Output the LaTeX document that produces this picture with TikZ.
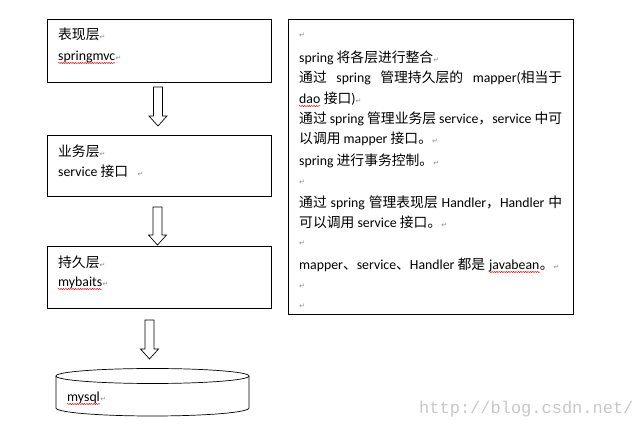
\documentclass[tikz,border=0pt]{standalone}
\usepackage{fontspec}
\setmainfont{Carlito}
\newfontfamily\cjk{Noto Sans CJK SC}
\newfontfamily\dejavu{DejaVu Sans}
\newfontfamily\wmfont{Liberation Mono}
\usetikzlibrary{decorations.pathmorphing}
\newcommand\zh[1]{{\cjk #1}}
\newcommand\rt{{\dejavu\fontsize{7}{7}\selectfont\color{black!45}↵}}
\newcommand\blockarrow[3]{%
  \draw[arr] (#1-4.5,#2) -- (#1+4.5,#2) -- (#1+4.5,#3-10) -- (#1+9,#3-10) -- (#1,#3)
    -- (#1-9,#3-10) -- (#1-4.5,#3-10) -- cycle;}
\tikzset{
  box/.style={draw, line width=0.8pt, inner sep=0pt},
  txt/.style={anchor=base west, inner sep=0pt, font=\fontsize{13.8}{16}\selectfont},
  arr/.style={draw, line width=0.7pt, fill=white},
  wavy/.style={draw=red, line width=0.45pt, decorate,
    decoration={snake, segment length=2.4pt, amplitude=0.6pt}},
}
\begin{document}
\begin{tikzpicture}[x=1pt, y=-1pt]
\useasboundingbox (0,0) rectangle (641,430);
% left boxes
\node[box, minimum width=224pt, minimum height=63pt] (b1) at (159,50.5) {};
\node[box, minimum width=224pt, minimum height=61pt] (b2) at (159,165.5) {};
\node[box, minimum width=224pt, minimum height=62pt] (b3) at (159,277) {};
% right box
\node[box, minimum width=285pt, minimum height=295pt] (rb) at (430.5,166.5) {};
% box texts
\node[txt] (t1) at (58,40) {\zh{表现层}\rt};
\node[txt] (sm) at (58,61) {springmvc};
\node[txt] (sm2) at (sm.base east) {\rt};
\draw[wavy] ([yshift=-2pt]sm.base west) -- ([yshift=-2pt]sm.base east);
\node[txt] (t2) at (58,157) {\zh{业务层}\rt};
\node[txt] (t2b) at (58,177) {service \zh{接口}\ \ \ \rt};
\node[txt] (t3) at (58,268) {\zh{持久层}\rt};
\node[txt] (mb) at (58,287) {mybaits};
\node[txt] (mb2) at (mb.base east) {\rt};
\draw[wavy] ([yshift=-2pt]mb.base west) -- ([yshift=-2pt]mb.base east);
% arrows
\blockarrow{158}{87}{126}
\blockarrow{157.5}{207}{245}
\blockarrow{149.5}{320}{359}
% cylinder
\draw[line width=0.7pt] (56,376) -- (56,408) arc[start angle=180, end angle=0, x radius=96.5, y radius=8] -- (249,376);
\draw[line width=0.7pt] (152.5,376) ellipse[x radius=96.5, y radius=7.5];
\node[txt] (ms) at (67,402) {mysql};
\node[txt] (ms2) at (ms.base east) {\rt};
\draw[wavy] ([yshift=-2pt]ms.base west) -- ([yshift=-2pt]ms.base east);
% right box text
\node[txt] (r0) at (299,38) {\rt};
\node[txt] (r1) at (299,63) {spring \zh{将各层进行整合}\rt};
\node[txt] (r2) at (299,83) {\makebox[263pt][s]{\zh{通过} spring \zh{管理持久层的} mapper(\zh{相当于}}};
\node[txt] (dao) at (299,104) {dao};
\node[txt] (dao2) at (dao.base east) {\ \zh{接口})\rt};
\draw[wavy] ([yshift=-2pt]dao.base west) -- ([yshift=-2pt]dao.base east);
\node[txt] (r4) at (299,124) {\makebox[263pt][s]{\zh{通过} spring \zh{管理业务层} service\zh{，}service \zh{中可}}};
\node[txt] (r5) at (299,144) {\zh{以调用} mapper \zh{接口。}\rt};
\node[txt] (r6) at (299,166) {spring \zh{进行事务控制。}\rt};
\node[txt] (r7) at (299,185) {\rt};
\node[txt] (r8) at (299,208) {\makebox[263pt][s]{\zh{通过} spring \zh{管理表现层} Handler\zh{，}Handler \zh{中}}};
\node[txt] (r9) at (299,228) {\zh{可以调用} service \zh{接口。}\rt};
\node[txt] (r10) at (299,246) {\rt};
\node[txt] (r11) at (299,270) {mapper\zh{、}service\zh{、}Handler \zh{都是}};
\node[txt] (jb) at ([xshift=3.5pt]r11.base east) {javabean};
\node[txt] (jb2) at (jb.base east) {\zh{。}\rt};
\draw[wavy] ([yshift=-2pt]jb.base west) -- ([yshift=-2pt]jb.base east);
\node[txt] (r12) at (299,289) {\rt};
\node[txt] (r13) at (299,309) {\rt};
% watermark
\node[anchor=base west, inner sep=0pt, font=\wmfont\fontsize{17}{17}\selectfont, text=black!22] (wm) at (419,414) {http://blog.csdn.net/};
\end{tikzpicture}
\end{document}
